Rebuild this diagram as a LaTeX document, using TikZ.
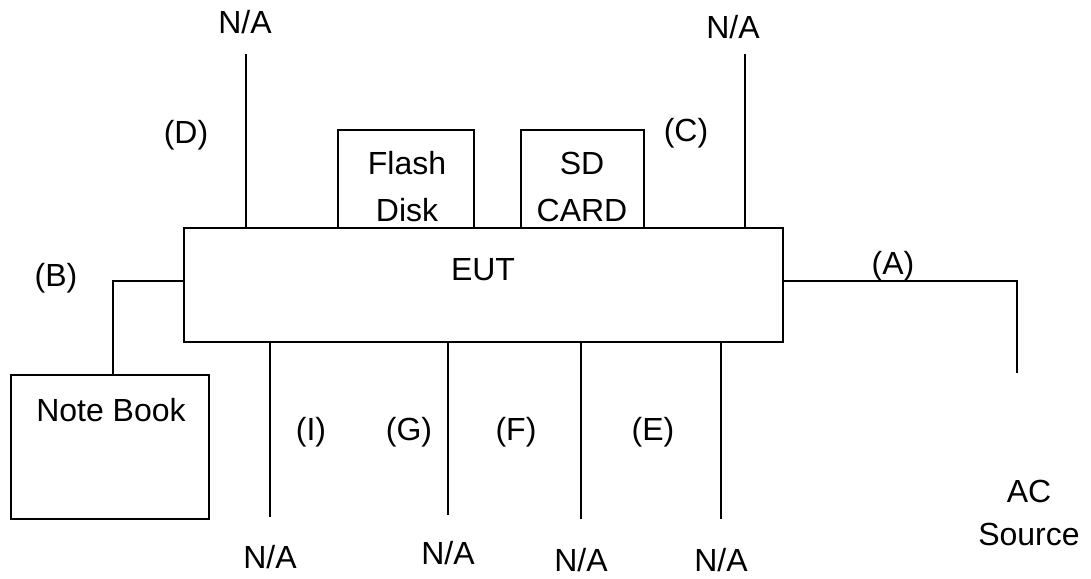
\documentclass[tikz,border=0pt]{standalone}
\usepackage{fontspec}
\setmainfont{Liberation Sans}
\usetikzlibrary{positioning}

\begin{document}
\begin{tikzpicture}[x=0.5pt,y=-0.5pt,
        unit/.style={draw,line width=1pt,inner sep=0pt},
        wire/.style={line width=0.8pt},
        lbl/.style={inner sep=0pt,font=\fontsize{16}{23.5}\selectfont,align=center}]
    \useasboundingbox (0,0) rectangle (1091,578);
    % boxes
    \node[unit,minimum width=299.5pt,minimum height=57pt] (eut) at (483.5,284.5) {};
    \node[unit,line width=0.8pt,minimum width=68pt,minimum height=49pt] (flash) at (406,179) {};
    \node[unit,line width=0.8pt,minimum width=61.5pt,minimum height=49pt] (sd) at (582.5,179) {};
    \node[unit,minimum width=99pt,minimum height=72pt] (nb) at (110,447) {};
    \node[lbl] (eutT) at (483,270) {EUT};
    \node[lbl] (flashT) at (407,187) {Flash\\Disk};
    \node[lbl] (sdT) at (582,187) {SD\\CARD};
    \node[lbl] (nbT) at (111,410) {Note Book};
    \node[lbl,font=\fontsize{16}{21.5}\selectfont] (ac) at (1029,513) {AC\\Source};
    % free ends
    \coordinate (d) at (246,54);
    \coordinate (c) at (745,54);
    \coordinate (b) at (113,375);
    \coordinate (a) at (1017,373);
    \coordinate (i) at (270,517);
    \coordinate (g) at (448,515);
    \coordinate (f) at (581,519);
    \coordinate (e) at (721,519);
    % connectors
    \draw[wire] (d) -- (d |- eut.north);
    \draw[wire] (c) -- (c |- eut.north);
    \draw[wire] (eut.west |- 0,281) -| (b);
    \draw[wire] (eut.east |- 0,281) -| (a);
    \foreach \p in {i,g,f,e}
        \draw[wire] (\p |- eut.south) -- (\p);
    % labels
    \node[lbl] (naD) at (245,22) {N/A};
    \node[lbl] (naC) at (733,27) {N/A};
    \node[lbl] (lD) at (186,135) {(D)};
    \node[lbl] (lC) at (686,133) {(C)};
    \node[lbl] (lB) at (56,278) {(B)};
    \node[lbl] (lA) at (893,266) {(A)};
    \node[lbl] (lI) at (311,432) {(I)};
    \node[lbl] (lG) at (409,432) {(G)};
    \node[lbl] (lF) at (516,432) {(F)};
    \node[lbl] (lE) at (653,432) {(E)};
    \node[lbl] (naI) at (270,557) {N/A};
    \node[lbl] (naG) at (448,553) {N/A};
    \node[lbl] (naF) at (581,560) {N/A};
    \node[lbl] (naE) at (721,560) {N/A};
\end{tikzpicture}
\end{document}
